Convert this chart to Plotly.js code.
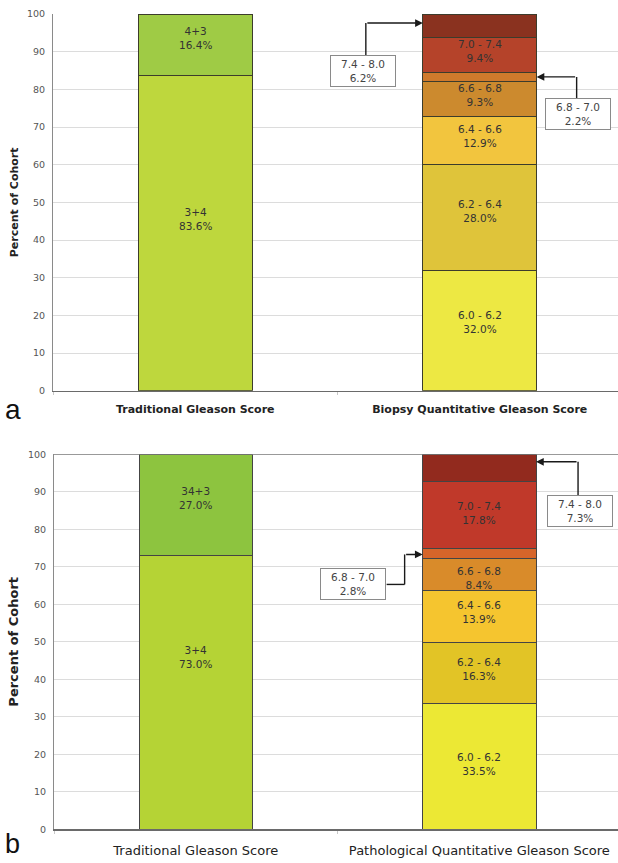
<!DOCTYPE html>
<html>
<head>
<meta charset="utf-8">
<script src="https://cdn.plot.ly/plotly-3.0.1.min.js"></script>
<style>
html,body{margin:0;padding:0;background:#fff;}
#chart{width:618px;height:863px;}
</style>
</head>
<body>
<div id="chart"></div>
<script>
// ---------- DATA ----------
const catsA = ['Traditional Gleason Score', 'Biopsy Quantitative Gleason Score'];
const catsB = ['Traditional Gleason Score', 'Pathological Quantitative Gleason Score'];

const tradLabelsA = ['3+4', '4+3'];
const tradValuesA = [83.6, 16.4];
const tradLabelsB = ['3+4', '34+3'];
const tradValuesB = [73.0, 27.0];

const quantLabels = ['6.0 - 6.2', '6.2 - 6.4', '6.4 - 6.6', '6.6 - 6.8', '6.8 - 7.0', '7.0 - 7.4', '7.4 - 8.0'];
const quantValuesA = [32.0, 28.0, 12.9, 9.3, 2.2, 9.4, 6.2];
const quantValuesB = [33.5, 16.3, 13.9, 8.4, 2.8, 17.8, 7.3];
const calloutLabels = ['6.8 - 7.0', '7.4 - 8.0'];

const yTicks = [0, 10, 20, 30, 40, 50, 60, 70, 80, 90, 100];

// ---------- STYLE ----------
const W = 618, H = 863;
const FONT = 'DejaVu Sans, Verdana, sans-serif';
const tradColorsA = ['#bed73d', '#9fcb45'];
const tradColorsB = ['#b5d335', '#8dc43f'];
const quantColorsA = ['#ede843', '#dfc43a', '#f2c53e', '#cc8a2e', '#cf7a2c', '#b5432a', '#8a321f'];
const quantColorsB = ['#ece834', '#e2c426', '#f5c52f', '#d98b2a', '#d6652a', '#c0392a', '#922a1e'];

const traces = [];
const annotations = [];
const shapes = [];

function pct(v) { return v.toFixed(1) + '%'; }

function addStack(cat, labels, values, colors, xa, ya, lineColor, labelShift) {
  let base = 0;
  labels.forEach((lab, i) => {
    const v = values[i];
    traces.push({
      type: 'bar', x: [cat], y: [v], xaxis: xa, yaxis: ya,
      width: 0.4, name: lab, showlegend: false, hoverinfo: 'skip',
      marker: {color: colors[i], line: {color: lineColor, width: 1}}
    });
    if (calloutLabels.indexOf(lab) < 0 || labels.length <= 2) {
      annotations.push({
        xref: xa, yref: ya, x: cat, y: base + v / 2,
        yshift: (labelShift && labelShift[lab] !== undefined) ? labelShift[lab] : 4,
        text: lab + '<br>' + pct(v), showarrow: false,
        font: {family: FONT, size: 10.5, color: '#333'}
      });
    }
    base += v;
  });
}

addStack(catsA[0], tradLabelsA, tradValuesA, tradColorsA, 'x', 'y', '#3c3c2c', {'3+4': 14, '4+3': 7});
addStack(catsA[1], quantLabels, quantValuesA, quantColorsA, 'x', 'y', '#3c3c2c', {'6.0 - 6.2': 8, '6.2 - 6.4': 6});
addStack(catsB[0], tradLabelsB, tradValuesB, tradColorsB, 'x2', 'y2', '#444', {'3+4': 35, '34+3': 7});
addStack(catsB[1], quantLabels, quantValuesB, quantColorsB, 'x2', 'y2', '#444', {'6.6 - 6.8': -3, '6.0 - 6.2': 2, '7.0 - 7.4': 2});

// callouts: arrow head at bar edge, elbow connector to box
function callout(xa, ya, label, value, hx, hy, segs, boxShift) {
  const ac = '#1a1a1a';
  const tail = segs[0];
  annotations.push({
    xref: xa, yref: ya, x: hx, y: hy, ax: tail[0], ay: -tail[1], text: '',
    showarrow: true, arrowhead: 2, arrowsize: 1.1, arrowwidth: 1.4, arrowcolor: ac, standoff: 0
  });
  for (let i = 0; i < segs.length - 1; i++) {
    shapes.push({
      type: 'line', xref: xa, yref: ya,
      xsizemode: 'pixel', xanchor: hx, x0: segs[i][0], x1: segs[i + 1][0],
      ysizemode: 'pixel', yanchor: hy, y0: segs[i][1], y1: segs[i + 1][1],
      line: {color: ac, width: 1.4}
    });
  }
  annotations.push({
    xref: xa, yref: ya, x: hx, y: hy, xshift: boxShift[0], yshift: boxShift[1],
    text: label + '<br>' + pct(value), showarrow: false,
    bgcolor: '#fff', bordercolor: '#8a8a8a', borderwidth: 1, borderpad: 1,
    width: 62, height: 28,
    font: {family: FONT, size: 10.5, color: '#444'}
  });
}

const i68 = quantLabels.indexOf('6.8 - 7.0');
const i74 = quantLabels.indexOf('7.4 - 8.0');
callout('x', 'y', quantLabels[i74], quantValuesA[i74], 0.8, 97.6, [[-57, 0], [-57, -32]], [-60, -48]);
callout('x', 'y', quantLabels[i68], quantValuesA[i68], 1.2, 83.3, [[40, 0], [40, -21]], [41, -37.5]);
callout('x2', 'y2', quantLabels[i74], quantValuesB[i74], 1.2, 98.0, [[42, 0], [42, -34]], [43.5, -49.5]);
callout('x2', 'y2', quantLabels[i68], quantValuesB[i68], 0.8, 73.3, [[-18, 0], [-18, -30], [-36, -30]], [-70, -30]);

// panel letters
annotations.push({xref: 'paper', yref: 'paper', x: 0.005, xanchor: 'left', y: 1 - 409.6 / H, yanchor: 'middle',
  text: 'a', showarrow: false, font: {family: 'Liberation Sans, Arial, sans-serif', size: 28, color: '#111'}});
annotations.push({xref: 'paper', yref: 'paper', x: 0.005, xanchor: 'left', y: 2 / H, yanchor: 'bottom',
  text: 'b', showarrow: false, font: {family: 'Liberation Sans, Arial, sans-serif', size: 27, color: '#111'}});

// darker top border in panel b
shapes.push({type: 'line', xref: 'x2 domain', yref: 'y2', x0: 0, x1: 1, y0: 100, y1: 100,
  line: {color: '#777', width: 1.2}});

function yAxis(dom, titleSize, titleColor) {
  return {
    domain: dom, range: [0, 100], tickvals: yTicks, ticktext: yTicks.map(String),
    tickfont: {family: FONT, size: 9.5, color: '#555'}, ticks: '', ticklabelstandoff: 5,
    showgrid: true, gridcolor: '#dcdcdc', gridwidth: 1, zeroline: false,
    showline: true, linecolor: '#8a8a8a', linewidth: 1, automargin: false, fixedrange: true,
    title: {text: 'Percent of Cohort', standoff: 6, font: {family: FONT, size: titleSize, color: titleColor, weight: 'bold'}}
  };
}
function xAxis(dom, anchor, rng, bold, size, standoff) {
  return {
    domain: dom, anchor: anchor, type: 'category', range: rng,
    showline: true, linecolor: '#6a6a6a', linewidth: 1.2, showgrid: false, zeroline: false,
    tickson: 'boundaries', ticks: 'outside', ticklen: 3, tickcolor: '#c8c8c8',
    ticklabelstandoff: standoff, automargin: false, fixedrange: true,
    tickfont: {family: FONT, size: size, color: '#222', weight: bold ? 'bold' : 'normal'}
  };
}

const layout = {
  width: W, height: H, margin: {l: 0, r: 0, t: 0, b: 0},
  paper_bgcolor: '#fff', plot_bgcolor: '#fff', barmode: 'stack', showlegend: false,
  xaxis: xAxis([53 / W, 1], 'y', [-0.5, 1.486], true, 11, 8),
  yaxis: yAxis([1 - 390.7 / H, 1 - 14 / H], 11, '#222'),
  xaxis2: xAxis([54 / W, 1], 'y2', [-0.5, 1.489], false, 13, 9),
  yaxis2: yAxis([1 - 829.3 / H, 1 - 454.3 / H], 13, '#222'),
  annotations: annotations, shapes: shapes
};
layout.yaxis2.anchor = 'x2';
layout.yaxis.anchor = 'x';

Plotly.newPlot('chart', traces, layout, {displayModeBar: false, staticPlot: true});
</script>
</body>
</html>
